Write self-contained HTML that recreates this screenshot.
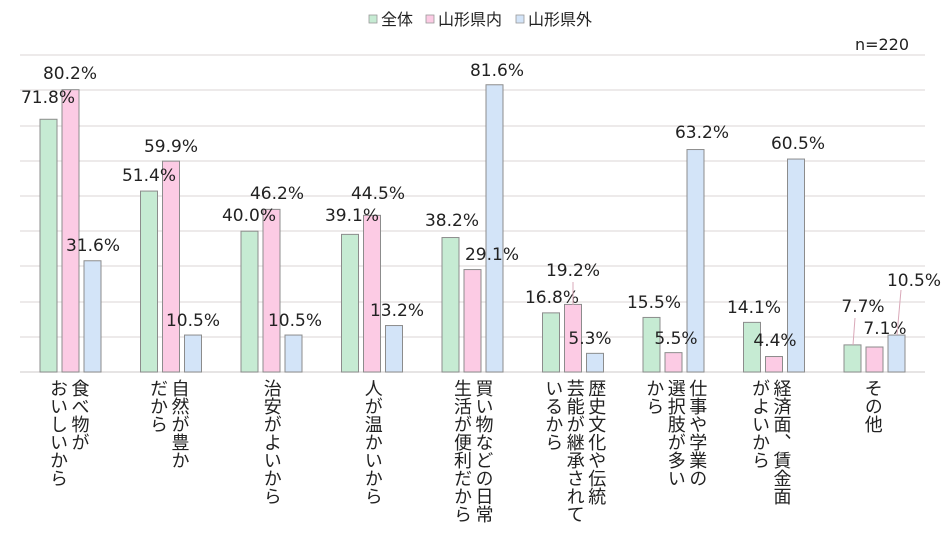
<!DOCTYPE html>
<html><head><meta charset="utf-8"><style>
body{margin:0;background:#fff;width:946px;height:537px;overflow:hidden;position:relative;font-family:"Liberation Sans","Noto Sans CJK JP",sans-serif;color:#333}
svg{position:absolute;left:0;top:0}
.cl{position:absolute;top:379px;writing-mode:vertical-rl;font-size:18px;line-height:21.5px;transform:translateX(-50%);color:#222;white-space:nowrap}
</style></head><body>
<svg width="946" height="537" id="s" font-family="DejaVu Sans, Noto Sans CJK JP, sans-serif">
<g stroke="#e2dede" stroke-width="1.3">
<line x1="20" x2="925" y1="55" y2="55"/><line x1="20" x2="925" y1="90" y2="90"/><line x1="20" x2="925" y1="126" y2="126"/>
<line x1="20" x2="925" y1="161" y2="161"/><line x1="20" x2="925" y1="196" y2="196"/><line x1="20" x2="925" y1="231" y2="231"/>
<line x1="20" x2="925" y1="266" y2="266"/><line x1="20" x2="925" y1="302" y2="302"/><line x1="20" x2="925" y1="337" y2="337"/>
<line x1="20" x2="925" y1="372" y2="372" stroke="#d8d4d4"/>
</g>
<g id="bars"></g>
<g font-size="17" fill="#222" text-anchor="middle">
<rect x="369" y="15" width="8" height="8" fill="#c6ebd3" stroke="#999" stroke-width=".8"/><text x="381" y="25" text-anchor="start" font-size="16" font-family="Noto Sans CJK JP, sans-serif">全体</text>
<rect x="426" y="15" width="8" height="8" fill="#fccbe4" stroke="#999" stroke-width=".8"/><text x="438" y="25" text-anchor="start" font-size="16" font-family="Noto Sans CJK JP, sans-serif">山形県内</text>
<rect x="516" y="15" width="8" height="8" fill="#d3e4f8" stroke="#999" stroke-width=".8"/><text x="528" y="25" text-anchor="start" font-size="16" font-family="Noto Sans CJK JP, sans-serif">山形県外</text>
<text x="882" y="50" font-size="16">n=220</text>
<text x="48" y="103">71.8%</text><text x="70" y="79">80.2%</text><text x="93" y="251">31.6%</text>
<text x="149" y="181">51.4%</text><text x="171" y="152">59.9%</text><text x="193" y="326">10.5%</text>
<text x="249" y="221">40.0%</text><text x="277" y="199">46.2%</text><text x="295" y="326">10.5%</text>
<text x="352" y="221">39.1%</text><text x="378" y="199">44.5%</text><text x="397" y="316">13.2%</text>
<text x="452" y="226">38.2%</text><text x="492" y="260">29.1%</text><text x="497" y="76">81.6%</text>
<text x="552" y="303">16.8%</text><text x="573" y="276">19.2%</text><text x="590" y="344">5.3%</text>
<text x="654" y="308">15.5%</text><text x="676" y="344">5.5%</text><text x="702" y="138">63.2%</text>
<text x="754" y="313">14.1%</text><text x="775" y="346">4.4%</text><text x="798" y="149">60.5%</text>
<text x="863" y="312">7.7%</text><text x="885" y="334">7.1%</text><text x="914" y="286">10.5%</text>
</g>
<g stroke="#d9a8b8" stroke-width="1"><line x1="573" y1="282" x2="573" y2="305"/><line x1="855" y1="318" x2="853" y2="345"/><line x1="901" y1="290" x2="897" y2="335"/></g>
</svg>
<div class="cl" style="left:68px">食べ物が<br>おいしいから</div>
<div class="cl" style="left:168px">自然が豊か<br>だから</div>
<div class="cl" style="left:271px">治安がよいから</div>
<div class="cl" style="left:372px">人が温かいから</div>
<div class="cl" style="left:472px">買い物などの日常<br>生活が便利だから</div>
<div class="cl" style="left:574px">歴史文化や伝統<br>芸能が継承されて<br>いるから</div>
<div class="cl" style="left:675px">仕事や学業の<br>選択肢が多い<br>から</div>
<div class="cl" style="left:770px">経済面、賃金面<br>がよいから</div>
<div class="cl" style="left:872px">その他</div>
<script>
var g=[71.8,51.4,40.0,39.1,38.2,16.8,15.5,14.1,7.7],p=[80.2,59.9,46.2,44.5,29.1,19.2,5.5,4.4,7.1],b=[31.6,10.5,10.5,13.2,81.6,5.3,63.2,60.5,10.5];
var h='',cols=['#c6ebd3','#fccbe4','#d3e4f8'],d=[g,p,b];
for(var i=0;i<9;i++){var s=20+100.5*i;for(var k=0;k<3;k++){var v=d[k][i]*3.52;h+='<rect x="'+(s+20+k*22)+'" y="'+(372-v)+'" width="17" height="'+v+'" fill="'+cols[k]+'" stroke="#8c8c8c" stroke-width="1"/>';}}
document.getElementById('bars').innerHTML=h;
</script>
</body></html>
